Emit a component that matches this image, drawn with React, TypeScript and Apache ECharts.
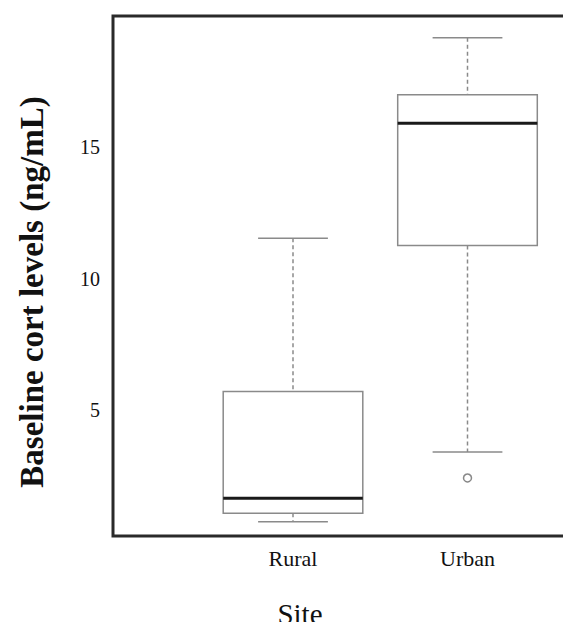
import React, { useEffect, useRef } from "react";
import * as echarts from "echarts";

const categories = ["Rural", "Urban"];
// [lower whisker, Q1, median, Q3, upper whisker]
const rural = [0.74, 1.07, 1.64, 5.7, 11.54];
const urban = [3.4, 11.26, 15.92, 17.0, 19.17];
const boxStats = [rural, urban];
const outliers: [string, number][] = [["Urban", 2.41]];
const yTicks = [5, 10, 15];
const yMin = 0.2;
const yMax = 20;
const xTitle = "Site";
const yTitle = "Baseline cort levels (ng/mL)";

const serif = "'Liberation Serif', 'Times New Roman', serif";

export default function App() {
  const ref = useRef<HTMLDivElement>(null);
  useEffect(() => {
    const chart = echarts.init(ref.current!, null, { renderer: "svg" });
    const boxData = categories.map((c, i) => [i, ...boxStats[i]]);
    chart.setOption({
      animation: false,
      grid: { left: 197.75, top: 8, width: 349, height: 520 },
      xAxis: {
        type: "category",
        data: categories,
        axisLine: { show: false },
        axisTick: { show: false },
        splitLine: { show: false },
        axisLabel: { margin: 11, fontFamily: serif, fontSize: 22, color: "#111" },
      },
      yAxis: {
        type: "value",
        min: yMin,
        max: yMax,
        offset: 92.75,
        axisLine: { show: false },
        axisTick: { show: false },
        splitLine: { show: false },
        axisLabel: {
          margin: 13,
          fontFamily: serif,
          fontSize: 20,
          color: "#111",
          customValues: yTicks,
        },
      },
      graphic: [
        {
          type: "rect",
          shape: { x: 105, y: 8, width: 700, height: 520 },
          style: { fill: "none", stroke: "#2a2a2a", lineWidth: 3 },
          silent: true,
        },
        {
          type: "text",
          x: 24,
          y: 284,
          rotation: Math.PI / 2,
          style: {
            text: yTitle,
            fontFamily: serif,
            fontSize: 33,
            fontWeight: "bold",
            fill: "#111",
            align: "center",
            verticalAlign: "middle",
          },
        },
        {
          type: "text",
          x: 292,
          y: 606,
          style: {
            text: xTitle,
            fontFamily: serif,
            fontSize: 29,
            fill: "#111",
            align: "center",
            verticalAlign: "middle",
          },
        },
      ],
      series: [
        {
          type: "custom",
          encode: { x: 0, y: [1, 2, 3, 4, 5] },
          data: boxData,
          renderItem: (params: any, api: any) => {
            const x = api.value(0);
            const lo = api.coord([x, api.value(1)]);
            const q1 = api.coord([x, api.value(2)]);
            const med = api.coord([x, api.value(3)]);
            const q3 = api.coord([x, api.value(4)]);
            const hi = api.coord([x, api.value(5)]);
            const band = api.size([1, 0])[0];
            const bw = band * 0.8;
            const cw = bw / 2;
            const cx = hi[0];
            const gray = "#8a8a8a";
            const dash = { stroke: gray, lineWidth: 1.5, lineDash: [4, 3] };
            const solid = { stroke: gray, lineWidth: 1.5 };
            return {
              type: "group",
              children: [
                { type: "line", shape: { x1: cx, y1: hi[1], x2: cx, y2: q3[1] }, style: dash },
                { type: "line", shape: { x1: cx, y1: q1[1], x2: cx, y2: lo[1] }, style: dash },
                { type: "line", shape: { x1: cx - cw / 2, y1: hi[1], x2: cx + cw / 2, y2: hi[1] }, style: solid },
                { type: "line", shape: { x1: cx - cw / 2, y1: lo[1], x2: cx + cw / 2, y2: lo[1] }, style: solid },
                {
                  type: "rect",
                  shape: { x: cx - bw / 2, y: q3[1], width: bw, height: q1[1] - q3[1] },
                  style: { fill: "#fff", stroke: gray, lineWidth: 1.5 },
                },
                {
                  type: "line",
                  shape: { x1: cx - bw / 2, y1: med[1], x2: cx + bw / 2, y2: med[1] },
                  style: { stroke: "#1a1a1a", lineWidth: 3 },
                },
              ],
            };
          },
        },
        {
          type: "scatter",
          data: outliers,
          symbol: "circle",
          symbolSize: 8,
          itemStyle: { color: "#fff", borderColor: "#6a6a6a", borderWidth: 1.5 },
        },
      ],
    });
    return () => chart.dispose();
  }, []);
  return (
    <div style={{ width: 563, height: 622, marginBottom: -8, overflow: "hidden" }}>
      <div ref={ref} style={{ width: 600, height: 622 }} />
    </div>
  );
}
